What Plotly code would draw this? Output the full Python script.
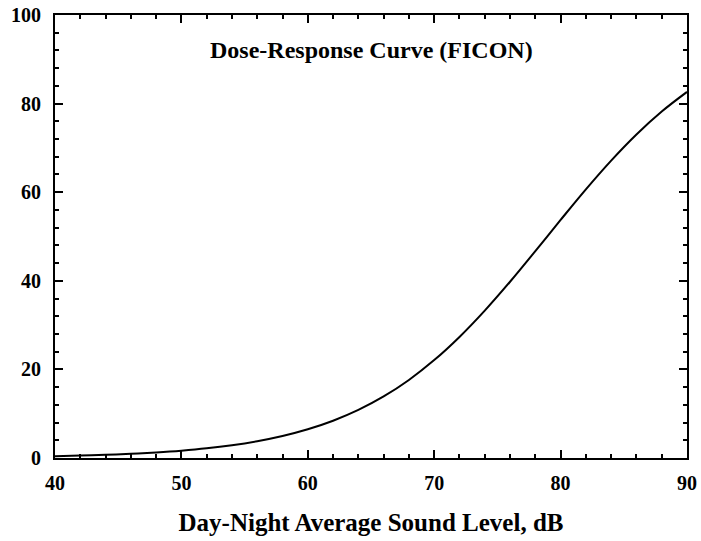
import plotly.graph_objects as go

# Data
ldn = [40, 42, 44, 46, 48, 50, 52, 54, 56, 58, 60, 62, 64, 66, 68, 70,
       72, 74, 76, 78, 80, 82, 84, 86, 88, 90]
pct_annoyed = [0.41, 0.54, 0.72, 0.95, 1.26, 1.66, 2.19, 2.89, 3.79, 4.96,
               6.48, 8.41, 10.85, 13.89, 17.62, 22.10, 27.33, 33.27, 39.79,
               46.70, 53.74, 60.64, 67.13, 73.03, 78.21, 82.64]

title_text = "Dose-Response Curve (FICON)"
x_title = "Day-Night Average Sound Level, dB"

font_family = "Liberation Serif, Times New Roman, serif"

fig = go.Figure()
fig.add_trace(go.Scatter(x=ldn, y=pct_annoyed, mode="lines",
                         line=dict(color="black", width=2, shape="spline"),
                         showlegend=False, hoverinfo="skip"))

axis_common = dict(
    showline=True, linecolor="black", linewidth=2, mirror="ticks",
    ticks="inside", ticklen=8, tickwidth=2, tickcolor="black",
    showgrid=False, zeroline=False, automargin=False,
    tickfont=dict(family=font_family, size=20, color="black", weight="bold"),
)

fig.update_xaxes(range=[40, 90], dtick=10, tick0=40,
                 minor=dict(ticks="inside", ticklen=4, tickwidth=1.5,
                            tickcolor="black", dtick=2, showgrid=False),
                 title=dict(text=x_title, standoff=20,
                            font=dict(family=font_family, size=25,
                                      color="black", weight="bold")),
                 ticklabelstandoff=6,
                 **axis_common)
fig.update_yaxes(range=[0, 100], dtick=20, tick0=0,
                 minor=dict(ticks="inside", ticklen=4, tickwidth=1.5,
                            tickcolor="black", dtick=4, showgrid=False),
                 ticklabelstandoff=8,
                 **axis_common)

fig.add_annotation(text=title_text, xref="paper", yref="paper",
                   x=0.5, y=0.92, showarrow=False, xanchor="center",
                   yanchor="middle",
                   font=dict(family=font_family, size=24, color="black",
                             weight="bold"))

fig.update_layout(width=701, height=541,
                  margin=dict(l=55, r=14, t=15, b=83, autoexpand=False),
                  paper_bgcolor="white", plot_bgcolor="white")

fig.write_html("out.html")
